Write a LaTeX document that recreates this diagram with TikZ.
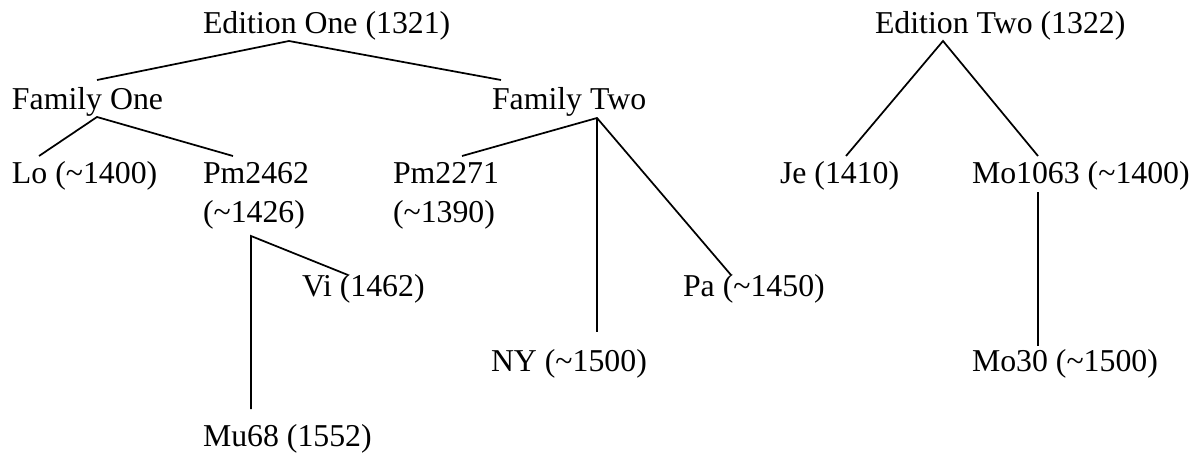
\documentclass[tikz,border=0pt]{standalone}
\usepackage{fontspec}
\setmainfont{Liberation Serif}
\begin{document}
\begin{tikzpicture}[x=0.75pt,y=-0.75pt,
  lbl/.style={anchor=base west,inner sep=0pt,outer sep=0pt,align=left,
    font=\fontsize{23.85}{29.25}\selectfont},
  link/.style={line width=1.3pt,black}]
\useasboundingbox (0,0) rectangle (1200,453);
% labels (for two-line labels the base anchor is the last line's baseline)
\node[lbl] (eone) at (203,34) {Edition One (1321)};
\node[lbl] (etwo) at (875,34) {Edition Two (1322)};
\node[lbl] (fone) at (12,109) {Family One};
\node[lbl] (ftwo) at (492,109) {Family Two};
\node[lbl] (lo) at (12,183) {Lo (\textasciitilde1400)};
\node[lbl] (pma) at (203,222) {Pm2462\\(\textasciitilde1426)};
\node[lbl] (pmb) at (393,222) {Pm2271\\(\textasciitilde1390)};
\node[lbl] (je) at (780,183) {Je (1410)};
\node[lbl] (moa) at (972,183) {Mo1063 (\textasciitilde1400)};
\node[lbl] (vi) at (302,296) {Vi (1462)};
\node[lbl] (pa) at (683,296) {Pa (\textasciitilde1450)};
\node[lbl] (ny) at (491,371) {NY (\textasciitilde1500)};
\node[lbl] (mob) at (972,371) {Mo30 (\textasciitilde1500)};
\node[lbl] (mu) at (203,446) {Mu68 (1552)};
% connectors
\draw[link] ([shift={(85,-29)}]fone.base west) -- ([shift={(86,7)}]eone.base west) -- ([shift={(9,-29)}]ftwo.base west);
\draw[link] ([shift={(27,-27)}]lo.base west) -- ([shift={(85,8)}]fone.base west) -- ([shift={(30,-66)}]pma.base west);
\draw[link] ([shift={(69,-66)}]pmb.base west) -- ([shift={(105,9)}]ftwo.base west) -- ([shift={(48,-21)}]pa.base west);
\draw[link] ([shift={(105,9)}]ftwo.base west) -- ([shift={(106,-39)}]ny.base west);
\draw[link] ([shift={(48,-37)}]mu.base west) -- ([shift={(48,14)}]pma.base west) -- ([shift={(46,-21)}]vi.base west);
\draw[link] ([shift={(66,-27)}]je.base west) -- ([shift={(68,7)}]etwo.base west) -- ([shift={(66,-27)}]moa.base west);
\draw[link] ([shift={(66,9)}]moa.base west) -- ([shift={(66,-25)}]mob.base west);
\end{tikzpicture}
\end{document}
